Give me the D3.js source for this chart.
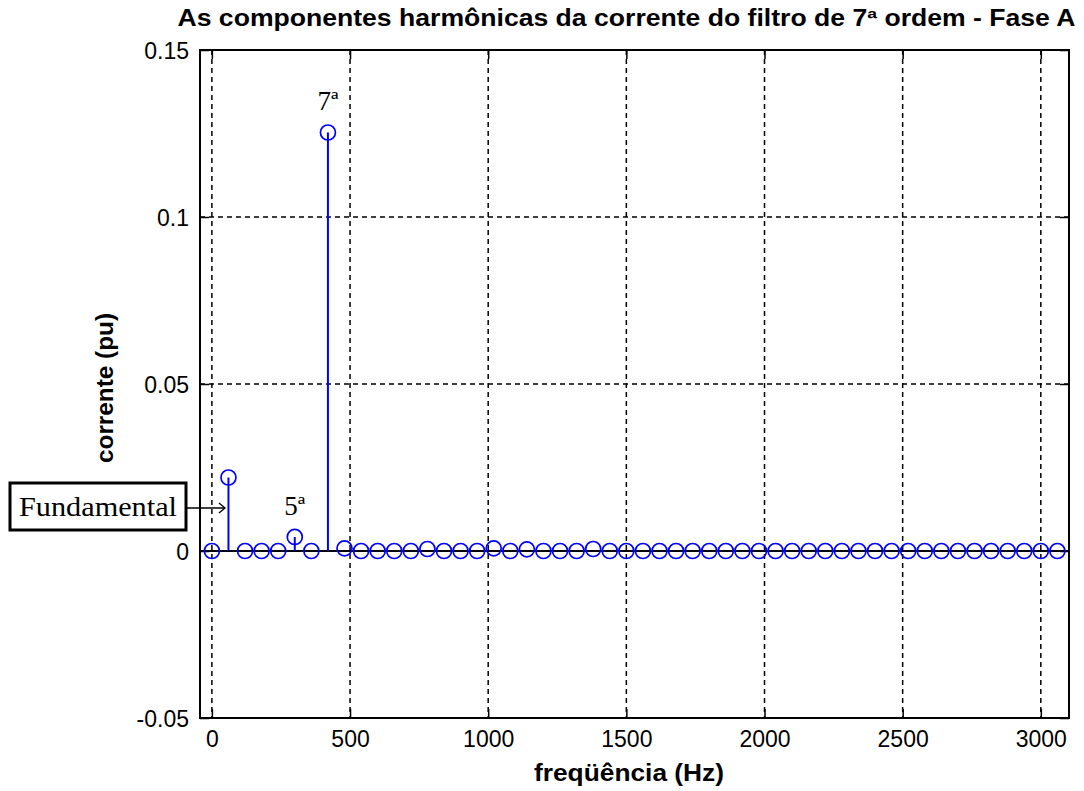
<!DOCTYPE html>
<html><head><meta charset="utf-8">
<script src="https://cdn.jsdelivr.net/npm/d3@7"></script>
<style>body{margin:0;background:#fff}svg{display:block}</style>
</head><body><svg id="c" width="1084" height="791"></svg>
<script>
// frequencies in Hz (multiples of 60 Hz)
const frequencies = d3.range(0, 52).map(i => i * 60);
// current magnitudes (pu)
const currents = [0, 0.022, 0, 0, 0, 0.0042, 0, 0.1253, 0.0008, 0, 0, 0, 0, 0.0006, 0, 0, 0, 0.0008, 0, 0.0005,
  0, 0, 0, 0.0006, 0, 0, 0, 0, 0, 0, 0, 0, 0, 0, 0, 0, 0, 0, 0, 0, 0, 0, 0, 0, 0, 0, 0, 0, 0, 0, 0, 0];
const xTicks = [0, 500, 1000, 1500, 2000, 2500, 3000];
const xTickLabels = ["0", "500", "1000", "1500", "2000", "2500", "3000"];
const yTicks = [-0.05, 0, 0.05, 0.1, 0.15];
const yTickLabels = ["-0.05", "0", "0.05", "0.1", "0.15"];
const titleText = "As componentes harmônicas da corrente do filtro de 7ª ordem - Fase A";
const xLabel = "freqüência (Hz)";
const yLabel = "corrente (pu)";
const annotations = [{f: 420, v: 0.1253, text: "7ª"}, {f: 300, v: 0.0042, text: "5ª"}];

const svg = d3.select("#c");
const L = 200, R = 1069, T = 50, B = 718;
const x = d3.scaleLinear().domain([-43, 3102]).range([L, R]);
const y = d3.scaleLinear().domain([-0.05, 0.15]).range([B, T]);
const sans = "Arial, 'Liberation Sans', sans-serif";
const serif = "'Times New Roman', 'Liberation Serif', serif";

// grid
const grid = svg.append("g").attr("stroke", "#000").attr("stroke-width", 1.5).attr("stroke-dasharray", "5,4");
xTicks.forEach(t => grid.append("line").attr("x1", x(t)).attr("x2", x(t)).attr("y1", T).attr("y2", B));
yTicks.filter(t => t > -0.05 && t < 0.15).forEach(t => grid.append("line").attr("x1", L).attr("x2", R).attr("y1", y(t)).attr("y2", y(t)));

// axes with inward ticks on all sides
const tickLen = 9;
const axB = svg.append("g").attr("transform", `translate(0,${B})`)
  .call(d3.axisBottom(x).tickValues(xTicks).tickSizeInner(-tickLen).tickSizeOuter(0).tickPadding(12)
    .tickFormat((d, i) => xTickLabels[i]));
const axT = svg.append("g").attr("transform", `translate(0,${T})`)
  .call(d3.axisTop(x).tickValues(xTicks).tickSizeInner(-tickLen).tickSizeOuter(0).tickFormat(""));
const axL = svg.append("g").attr("transform", `translate(${L},0)`)
  .call(d3.axisLeft(y).tickValues(yTicks).tickSizeInner(-tickLen).tickSizeOuter(0).tickPadding(11)
    .tickFormat((d, i) => yTickLabels[i]));
const axR = svg.append("g").attr("transform", `translate(${R},0)`)
  .call(d3.axisRight(y).tickValues(yTicks).tickSizeInner(-tickLen).tickSizeOuter(0).tickFormat(""));
[axB, axT, axL, axR].forEach(a => {
  a.select(".domain").remove();
  a.selectAll(".tick line").attr("stroke", "#000").attr("stroke-width", 1.5);
  a.selectAll("text").attr("font-family", sans).attr("font-size", 23).attr("fill", "#000");
});
axL.selectAll("text").attr("dy", "0.35em");
axB.selectAll("text").attr("dy", "0.72em");
svg.append("rect").attr("x", L).attr("y", T).attr("width", R - L).attr("height", B - T)
  .attr("fill", "none").attr("stroke", "#000").attr("stroke-width", 2);

// baseline
svg.append("line").attr("x1", L).attr("x2", R).attr("y1", y(0)).attr("y2", y(0))
  .attr("stroke", "#000").attr("stroke-width", 2);

// stems
const data = frequencies.map((f, i) => ({f, v: currents[i]}));
svg.append("g").selectAll("line").data(data.filter(d => d.v > 0.002)).join("line")
  .attr("x1", d => x(d.f)).attr("x2", d => x(d.f)).attr("y1", y(0)).attr("y2", d => y(d.v))
  .attr("stroke", "#0000ff").attr("stroke-width", 2);
svg.append("g").selectAll("circle").data(data).join("circle")
  .attr("cx", d => x(d.f)).attr("cy", d => y(d.v)).attr("r", 7.5)
  .attr("fill", "none").attr("stroke", "#0000ff").attr("stroke-width", 1.7);

// annotations
annotations.forEach(a => {
  svg.append("text").attr("x", x(a.f)).attr("y", y(a.v) - 22).attr("text-anchor", "middle")
    .attr("font-family", serif).attr("font-size", 27).attr("fill", "#000").text(a.text);
});
svg.append("rect").attr("x", 10).attr("y", 483).attr("width", 176).attr("height", 47)
  .attr("fill", "#fff").attr("stroke", "#000").attr("stroke-width", 3);
svg.append("text").attr("x", 98).attr("y", 516).attr("text-anchor", "middle")
  .attr("font-family", serif).attr("font-size", 27).attr("fill", "#000")
  .attr("textLength", 158).attr("lengthAdjust", "spacingAndGlyphs").text("Fundamental");
svg.append("line").attr("x1", 187).attr("x2", 225).attr("y1", 508).attr("y2", 508).attr("stroke", "#000").attr("stroke-width", 1.3);
svg.append("path").attr("d", "M219,503 L225,508 L219,513").attr("fill", "none").attr("stroke", "#000").attr("stroke-width", 1.3);

// titles
svg.append("text").attr("x", (L + R) / 2 - 8).attr("y", 26).attr("text-anchor", "middle")
  .attr("font-family", sans).attr("font-weight", "bold").attr("font-size", 23).attr("fill", "#000")
  .attr("textLength", 898).attr("lengthAdjust", "spacingAndGlyphs").text(titleText);
svg.append("text").attr("x", 629).attr("y", 781).attr("text-anchor", "middle")
  .attr("font-family", sans).attr("font-weight", "bold").attr("font-size", 24).attr("fill", "#000")
  .attr("textLength", 190).attr("lengthAdjust", "spacingAndGlyphs").text(xLabel);
svg.append("text").attr("transform", `translate(113,388) rotate(-90)`).attr("text-anchor", "middle")
  .attr("font-family", sans).attr("font-weight", "bold").attr("font-size", 24).attr("fill", "#000")
  .attr("textLength", 150).attr("lengthAdjust", "spacingAndGlyphs").text(yLabel);
</script></body></html>
